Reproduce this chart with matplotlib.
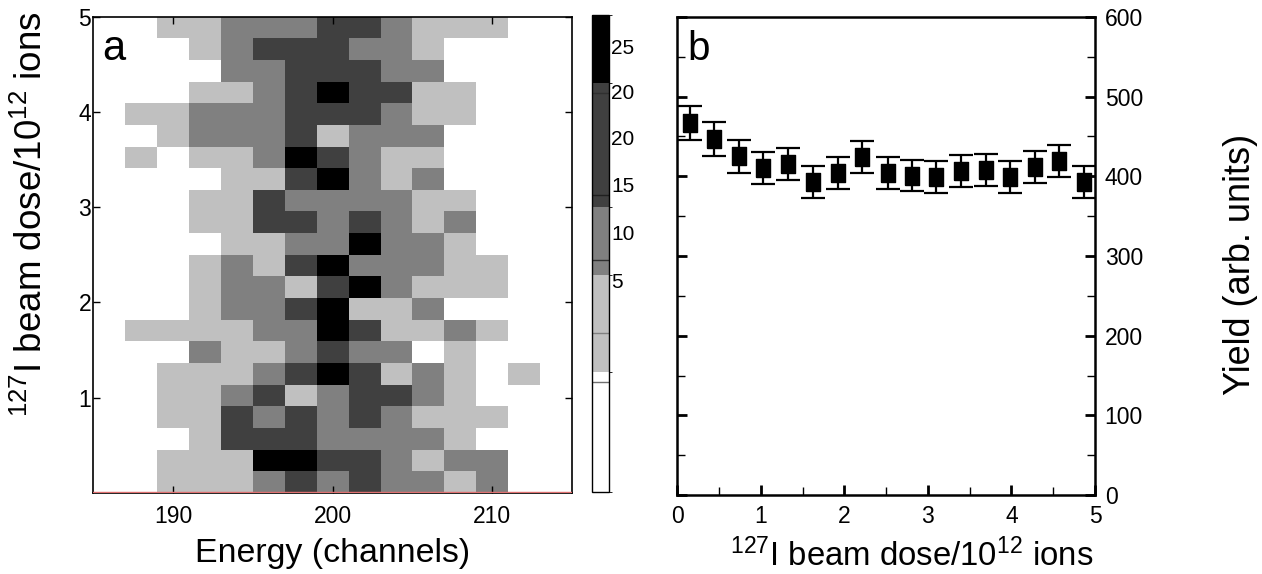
import numpy as np
import matplotlib
matplotlib.use("Agg")
import matplotlib.pyplot as plt
from matplotlib.colors import ListedColormap, BoundaryNorm
from matplotlib.ticker import MultipleLocator

plt.rcParams['font.family'] = ['Liberation Sans', 'DejaVu Sans']
plt.rcParams['mathtext.fontset'] = 'custom'
plt.rcParams['mathtext.rm'] = 'Liberation Sans'
plt.rcParams['mathtext.it'] = 'Liberation Sans:italic'
plt.rcParams['mathtext.bf'] = 'Liberation Sans:bold'
plt.rcParams['mathtext.default'] = 'regular'

# ---------------- data: panel a (2D histogram) ----------------
energy_edges = np.arange(185, 216, 2)          # channels, 2-channel bins
dose_edges = np.linspace(0, 5, 23)             # 22 dose bins
# grey level of every cell, rows listed from top (dose 5) to bottom (dose 0)
grey_level_rows = [
    [0,0,1,1,2,2,2,3,3,2,1,1,1,0,0],
    [0,0,0,1,2,3,3,3,2,2,1,0,0,0,0],
    [0,0,0,0,2,2,3,3,3,2,2,0,0,0,0],
    [0,0,0,1,1,2,3,4,3,3,1,1,0,0,0],
    [0,1,1,2,2,2,3,3,3,2,1,1,0,0,0],
    [0,0,1,2,2,2,3,1,2,2,2,0,0,0,0],
    [0,1,0,1,1,2,4,3,2,1,1,0,0,0,0],
    [0,0,0,0,1,1,3,4,2,1,2,0,0,0,0],
    [0,0,0,1,1,3,2,2,2,2,1,1,0,0,0],
    [0,0,0,1,1,3,3,2,3,2,1,2,0,0,0],
    [0,0,0,0,1,1,2,2,4,2,2,1,0,0,0],
    [0,0,0,1,2,1,3,4,2,2,2,1,1,0,0],
    [0,0,0,1,2,2,1,3,4,2,1,1,1,0,0],
    [0,0,0,1,2,2,3,4,1,1,2,0,0,0,0],
    [0,1,1,1,1,2,2,4,3,1,1,2,1,0,0],
    [0,0,0,2,1,1,2,3,2,2,0,1,0,0,0],
    [0,0,1,1,1,2,3,4,3,1,2,1,0,1,0],
    [0,0,1,1,2,3,1,2,3,3,2,1,0,0,0],
    [0,0,1,1,3,2,3,2,3,2,1,1,1,0,0],
    [0,0,0,1,3,3,3,2,2,2,2,1,0,0,0],
    [0,0,1,1,1,4,4,3,3,2,1,2,2,0,0],
    [0,0,1,1,1,2,3,2,3,2,2,1,2,0,0],
]
level_counts = [2, 10, 15, 21, 27]            # representative count per grey level
counts = np.array(level_counts)[np.array(grey_level_rows)[::-1]]

cbar_boundaries = [0, 7.55, 13.65, 17.93, 25.72, 30]
cbar_colors = ['#ffffff', '#c0c0c0', '#808080', '#404040', '#000000']
cbar_tick_pos = [13.33, 16.31, 19.31, 22.28, 25.22, 28.05]
cbar_tick_labels = ['5', '10', '15', '20', '20', '25']
cbar_line_pos = [6.94, 9.98, 14.59, 18.68, 25.11]
cbar_line_colors = ['#707070', '#808080', '#303030', '#202020', '#303030']

# ---------------- data: panel b (yield vs dose) ----------------
dose = [0.15, 0.44, 0.74, 1.03, 1.32, 1.62, 1.92, 2.21, 2.52, 2.81,
        3.10, 3.39, 3.69, 3.98, 4.28, 4.57, 4.87]
yield_vals = [467, 447, 425, 411, 416, 393, 404, 424, 404, 401,
              399, 407, 408, 399, 412, 419, 393]
yield_err = [21, 21, 21, 20, 20, 20, 20, 20, 20, 20,
             20, 20, 20, 20, 20, 20, 20]

dose_label = r'$^{127}$I beam dose/10$^{12}$ ions'

# ---------------- figure ----------------
W, H = 1262, 574
fig = plt.figure(figsize=(W / 100, H / 100), dpi=100)

def box(x0, y0, x1, y1):
    return [x0 / W, 1 - y1 / H, (x1 - x0) / W, (y1 - y0) / H]

ax1 = fig.add_axes(box(93.3, 16.7, 572, 492.8))
cax = fig.add_axes(box(592, 15, 608.5, 492))
ax2 = fig.add_axes(box(677.3, 17, 1095, 495))

# ---- panel a ----
cmap = ListedColormap(cbar_colors)
norm = BoundaryNorm(cbar_boundaries, cmap.N)
mesh = ax1.pcolormesh(energy_edges, dose_edges, counts, cmap=cmap, norm=norm)
ax1.set_xlim(185, 215)
ax1.set_ylim(0, 5)
ax1.set_xticks([190, 200, 210])
ax1.set_yticks([1, 2, 3, 4, 5])
ax1.tick_params(axis='both', direction='in', top=True, right=True,
                length=5, width=1, labelsize=16.5)
ax1.tick_params(axis='x', pad=9)
ax1.tick_params(axis='y', pad=1.5)
for sp in ax1.spines.values():
    sp.set_linewidth(1.2)
ax1.axhline(0.012, color='#e07070', lw=1.0, zorder=3)

ax1.set_xlabel('Energy (channels)', fontsize=24.4, va='baseline')
ax1.xaxis.set_label_coords(0.5, -0.1447)
ax1.set_ylabel(dose_label, fontsize=26.5)
ax1.yaxis.label.set_va('baseline')
ax1.yaxis.set_label_coords(-0.107, 0.585)
ax1.text(0.018, 0.909, 'a', transform=ax1.transAxes, fontsize=30,
         va='baseline', ha='left')

# colorbar
cb = fig.colorbar(mesh, cax=cax, spacing='proportional')
cb.set_ticks(cbar_tick_pos)
cb.set_ticklabels(cbar_tick_labels)
cax.tick_params(length=0, pad=2, labelsize=15)
cb.outline.set_linewidth(1.0)
for v, c in zip(cbar_line_pos, cbar_line_colors):
    cax.axhline(v, color=c, lw=1.0)

# ---- panel b ----
tall_square = [(-0.41, -0.5), (0.41, -0.5), (0.41, 0.5), (-0.41, 0.5), (-0.41, -0.5)]
ax2.errorbar(dose, yield_vals, yerr=yield_err, fmt='none', ecolor='black',
             capsize=8.5, elinewidth=1.6, capthick=1.6,
             clip_on=False, zorder=3)
ax2.plot(dose, yield_vals, linestyle='none', marker=tall_square, ms=12.3,
         color='black', clip_on=False, zorder=4)
ax2.set_xlim(0, 5)
ax2.set_ylim(0, 600)
ax2.xaxis.set_major_locator(MultipleLocator(1))
ax2.xaxis.set_minor_locator(MultipleLocator(0.5))
ax2.yaxis.set_major_locator(MultipleLocator(100))
ax2.yaxis.set_minor_locator(MultipleLocator(50))
ax2.yaxis.tick_right()
ax2.tick_params(axis='y', which='both', left=True, right=True,
                labelleft=False, labelright=True, direction='in')
ax2.tick_params(axis='x', which='both', top=False, bottom=True, direction='in')
ax2.tick_params(which='major', length=7, width=2, labelsize=16.5)
ax2.tick_params(which='minor', length=6, width=1)
ax2.tick_params(axis='x', pad=7)
ax2.tick_params(axis='y', pad=7)
for sp in ax2.spines.values():
    sp.set_linewidth(1.8)

ax2.set_xlabel(dose_label, fontsize=23.7, va='baseline')
ax2.xaxis.set_label_coords(0.562, -0.148)
ax2.yaxis.set_label_position('right')
ax2.set_ylabel('Yield (arb. units)', fontsize=26)
ax2.yaxis.label.set_va('baseline')
ax2.yaxis.set_label_coords(1.371, 0.483)
ax2.text(0.025, 0.91, 'b', transform=ax2.transAxes, fontsize=29,
         va='baseline', ha='left')

fig.savefig('out.png', dpi=100)
